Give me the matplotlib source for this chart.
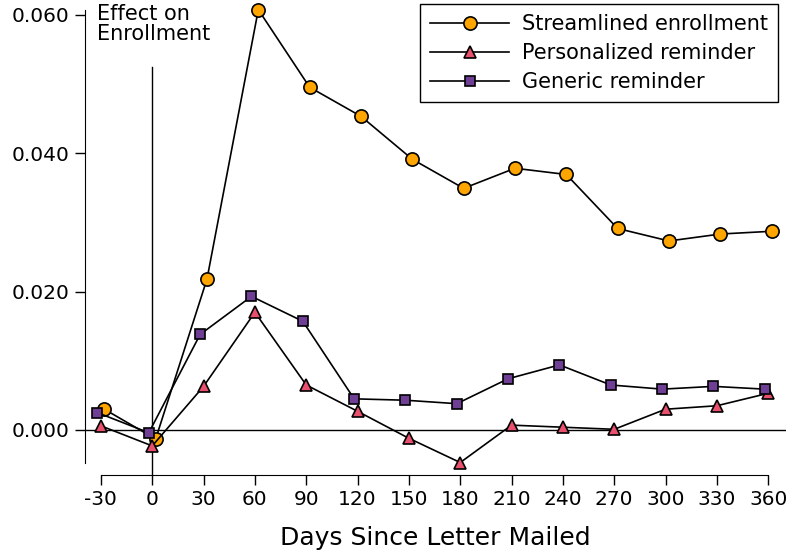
import matplotlib
matplotlib.use("Agg")
import matplotlib.pyplot as plt
import numpy as np

days = [-30, 0, 30, 60, 90, 120, 150, 180, 210, 240, 270, 300, 330, 360]
streamlined = [0.0030, -0.0013, 0.0218, 0.0607, 0.0495, 0.0453, 0.0391, 0.0349,
               0.0378, 0.0369, 0.0291, 0.0273, 0.0283, 0.0287]
personalized = [0.0006, -0.0023, 0.0063, 0.0170, 0.0065, 0.0027, -0.0012, -0.0047,
                0.0007, 0.0004, 0.0001, 0.0030, 0.0035, 0.0053]
generic = [0.0025, -0.0004, 0.0138, 0.0193, 0.0157, 0.0045, 0.0043, 0.0038,
           0.0074, 0.0094, 0.0065, 0.0059, 0.0063, 0.0059]
yticks = [0.0, 0.02, 0.04, 0.06]
ytick_labels = ["0.000", "0.020", "0.040", "0.060"]

plt.rcParams['font.family'] = ['DejaVu Sans']

fig = plt.figure(figsize=(7.89, 5.57), dpi=100)
ax = fig.add_axes([85/789, (557-475)/557, (786-85)/789, 475/557])

d = np.array(days, dtype=float)
ax.axhline(0, color='black', lw=1.0, zorder=1)
ax.plot([0, 0], [-0.0065, 0.0524], color='black', lw=1.0, zorder=1)

ax.plot(d + 2, streamlined, '-o', color='black', lw=1.2, marker='o', ms=9.5,
        mfc='#ffa500', mec='black', mew=1.2, label='Streamlined enrollment', zorder=3)
ax.plot(d, personalized, '-^', color='black', lw=1.2, ms=8.5,
        mfc='#e8506e', mec='black', mew=1.2, label='Personalized reminder', zorder=3)
ax.plot(d - 2, generic, '-s', color='black', lw=1.2, ms=7.5,
        mfc='#6f3f96', mec='black', mew=1.2, label='Generic reminder', zorder=3)

ax.set_xlim(-39.3, 370.4)
ax.set_ylim(-0.0065, 0.0621)
ax.set_xticks(days)
ax.set_xticklabels([str(v) for v in days])
ax.set_yticks(yticks)
ax.set_yticklabels(ytick_labels)
ax.tick_params(labelsize=14.5, length=7, width=1, direction='out', pad=4)

for s in ['top', 'right']:
    ax.spines[s].set_visible(False)
allv = streamlined + personalized + generic
ax.spines['left'].set_bounds(min(allv), max(allv))
ax.spines['bottom'].set_bounds(days[0], days[-1])

ax.text(0.017, 0.992, "Effect on\nEnrollment", transform=ax.transAxes,
        ha='left', va='top', fontsize=15, linespacing=1.0)

ax.set_xlabel("Days Since Letter Mailed", fontsize=18, labelpad=12)

leg = ax.legend(loc='upper right', bbox_to_anchor=(778/789, 1 - 4/557),
                bbox_transform=fig.transFigure, fontsize=15, handlelength=3.8,
                fancybox=False, edgecolor='black', framealpha=1,
                borderpad=0.5, labelspacing=0.42, handletextpad=0.6, borderaxespad=0)
leg.get_frame().set_linewidth(1.0)

fig.savefig("out.png", dpi=100)
